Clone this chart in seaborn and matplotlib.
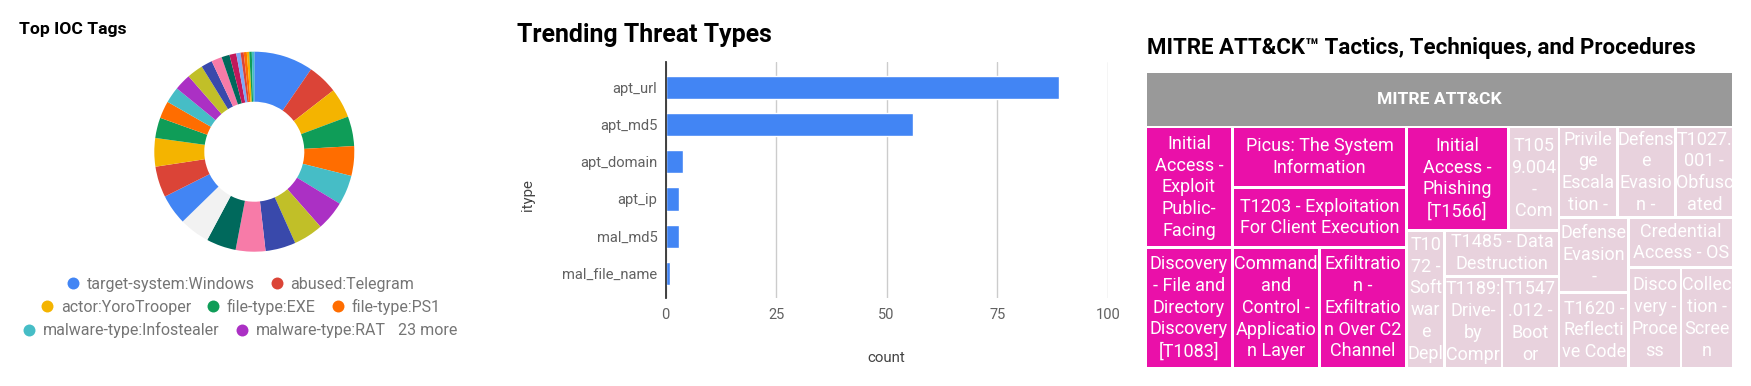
import matplotlib
matplotlib.use('Agg')
import matplotlib.pyplot as plt
from matplotlib.patches import Rectangle
from matplotlib.lines import Line2D
from matplotlib.colors import LinearSegmentedColormap, Normalize
import seaborn as sns

# ---- data: Top IOC Tags (share of tags, %) ----
tag_names = ['target-system:Windows', 'abused:Telegram', 'actor:YoroTrooper',
             'file-type:EXE', 'file-type:PS1', 'malware-type:Infostealer',
             'malware-type:RAT']
tag_values = [9.6, 4.9, 4.8, 4.8, 4.8, 4.8, 4.8, 4.8, 4.9, 4.8, 4.8, 4.9, 4.9, 5.0, 4.6,
              3.3, 2.8, 2.6, 2.7, 2.6, 1.8, 1.7, 1.3, 1.1, 0.7, 0.5, 0.5, 0.4, 0.4, 0.4]
tag_colors = ['#4285f4', '#db4437', '#f4b400', '#0f9d58', '#ff6d00', '#46bdc6',
              '#ab30c4', '#c1bf28', '#3949ab', '#f77ba8', '#00695c', '#f2f2f2',
              '#4285f4', '#db4437', '#f4b400', '#0f9d58', '#ff6d00', '#46bdc6',
              '#ab30c4', '#c1bf28', '#3949ab', '#f77ba8', '#00695c', '#c2185b',
              '#7baaf7', '#db4437', '#ff6d00', '#f4b400', '#0f9d58', '#46bdc6']
legend_rows = [[0, 1], [2, 3, 4], [5, 6]]

# ---- data: Trending Threat Types ----
threat_types = ['apt_url', 'apt_md5', 'apt_domain', 'apt_ip', 'mal_md5', 'mal_file_name']
threat_counts = [89, 56, 4, 3, 3, 1]

# ---- data: MITRE ATT&CK treemap (labels as displayed) ----
ttp_labels = [
    'Initial\nAccess -\nExploit\nPublic-\nFacing',
    'Discovery\n- File and\nDirectory\nDiscovery\n[T1083]',
    'Picus: The System\nInformation',
    'T1203 - Exploitation\nFor Client Execution',
    'Command\nand\nControl -\nApplicatio\nn Layer',
    'Exfiltratio\nn -\nExfiltratio\nn Over C2\nChannel',
    'Initial\nAccess -\nPhishing\n[T1566]',
    'T105\n9.004\n-\nCom',
    'T10\n72 -\nSoft\nwar\ne\nDepl',
    'T1485 - Data\nDestruction',
    'T1189:\nDrive-\nby\nCompr',
    'T1547\n.012 -\nBoot\nor',
    'Privile\nge\nEscala\ntion -',
    'Defens\ne\nEvasio\nn -',
    'T1027.\n001 -\nObfusc\nated',
    'Defense\nEvasion\n-',
    'T1620 -\nReflecti\nve Code',
    'Credential\nAccess - OS',
    'Disco\nvery -\nProce\nss',
    'Collec\ntion -\nScree\nn',
]
ttp_counts = [2, 2, 2, 2, 2, 2, 2, 1, 1, 1, 1, 1, 1, 1, 1, 1, 1, 1, 1, 1]
# grouping of the items (binary hierarchy)
ttp_tree = [[[0, 1], [2, [3, [4, 5]]]],
            [[[6, 7], [8, [9, [10, 11]]]],
             [[12, [13, 14]], [[15, 16], [17, [18, 19]]]]]]

sns.set_theme(style='white')
plt.rcParams['font.family'] = ['Roboto', 'DejaVu Sans']

W_PX, H_PX = 1751, 386
fig = plt.figure(figsize=(W_PX / 100, H_PX / 100), dpi=100)


def px_axes(left, top, right, bottom):
    return fig.add_axes([left / W_PX, 1 - bottom / H_PX,
                         (right - left) / W_PX, (bottom - top) / H_PX])


def fx(x):
    return x / W_PX


def fy(y):
    return 1 - y / H_PX


# ================= donut =================
fig.text(fx(19), fy(34.3), 'Top IOC Tags', fontsize=12.6, fontweight='bold',
         color='#000000', va='baseline')

ax_pie = px_axes(154.3, 51.7, 354.3, 251.7)
ax_pie.pie(tag_values, colors=tag_colors, startangle=90, counterclock=False,
           radius=1, wedgeprops=dict(width=0.5, linewidth=0))
ax_pie.set_xlim(-1, 1)
ax_pie.set_ylim(-1, 1)

row_left = [66.7, 40.7, 23]
row_y = [284.3, 307, 330.3]
for r, idx in enumerate(legend_rows):
    handles = [Line2D([0], [0], marker='o', linestyle='none', markersize=8.6,
                      markerfacecolor=tag_colors[i], markeredgewidth=0) for i in idx]
    labels = [tag_names[i] for i in idx]
    leg = fig.legend(handles, labels, loc='center left',
                     bbox_to_anchor=(fx(row_left[r]), fy(row_y[r])),
                     ncol=len(idx), frameon=False, fontsize=11.5,
                     handlelength=0.75, handletextpad=0.5, columnspacing=1.0,
                     borderpad=0, borderaxespad=0)
    for t in leg.get_texts():
        t.set_color('#757575')
n_more = len(tag_values) - len(tag_names)
fig.text(fx(398), fy(330.3), f'{n_more} more', fontsize=11.5, color='#757575',
         va='center')

# ================= bar chart =================
fig.text(fx(517), fy(41.7), 'Trending Threat Types', fontsize=17.9,
         fontweight='bold', color='#000000', va='baseline')

ax_bar = px_axes(665.5, 62.3, 1107.7, 297.7)
sns.barplot(x=threat_counts, y=threat_types, orient='h', color='#4285f4',
            saturation=1, width=0.625, ax=ax_bar)
ax_bar.set_xlim(0, 100)
ax_bar.set_ylim(5.65, -0.67)
ax_bar.set_xticks([0, 25, 50, 75, 100])
ax_bar.xaxis.grid(True, color='#cccccc', linewidth=1)
ax_bar.yaxis.grid(False)
ax_bar.set_axisbelow(True)
sns.despine(ax=ax_bar, left=False, bottom=True)
ax_bar.spines['left'].set_color('#333333')
ax_bar.spines['left'].set_linewidth(1.3)
ax_bar.spines['left'].set_zorder(5)
ax_bar.tick_params(axis='x', length=0, pad=7.5, labelsize=10.5, labelcolor='#616161')
ax_bar.tick_params(axis='y', length=0, pad=5.8, labelsize=10.6, labelcolor='#616161')
ax_bar.set_xlabel('count', fontsize=10.8, color='#444444')
ax_bar.set_ylabel('itype', fontsize=10.8, color='#444444')
ax_bar.xaxis.set_label_coords(0.5, (297.7 - 358.3) / 235.4)
ax_bar.xaxis.label.set_va('center')
ax_bar.yaxis.set_label_coords((528 - 665.5) / 442.2, (297.7 - 195) / 235.4)
ax_bar.yaxis.label.set_va('center')

# ================= treemap =================
fig.text(fx(1147), fy(54), 'MITRE ATT&CK\u2122 Tactics, Techniques, and Procedures',
         fontsize=16, fontweight='bold', color='#000000', va='baseline')

TL, TT, TR, TB = 1146.7, 73.3, 1732, 366.7
ax_tm = px_axes(TL, TT, TR, TB)
W, H = TR - TL, TB - TT
ax_tm.set_xlim(0, W)
ax_tm.set_ylim(H, 0)
ax_tm.axis('off')

header_h = 52.4
gap = 2.7
ax_tm.add_patch(Rectangle((0, 0), W, header_h, facecolor='#999999', edgecolor='none'))
ax_tm.text(W / 2, header_h / 2, 'MITRE ATT&CK', color='white', fontsize=12.6,
           fontweight='bold', ha='center', va='center')


def node_total(node):
    if isinstance(node, int):
        return ttp_counts[node]
    return sum(node_total(n) for n in node)


def layout(node, x, y, w, h, out):
    if isinstance(node, int):
        out.append((node, x, y, w, h))
        return
    a, b = node
    va, vb = node_total(a), node_total(b)
    if w > h:
        wa = w * va / (va + vb)
        layout(a, x, y, wa, h, out)
        layout(b, x + wa, y, w - wa, h, out)
    else:
        ha = h * va / (va + vb)
        layout(a, x, y, w, ha, out)
        layout(b, x, y + ha, w, h - ha, out)


cells = []
y0 = header_h + gap / 2
layout(ttp_tree, -gap / 2, y0, W + gap, H + gap / 2 - y0, cells)

cmap = LinearSegmentedColormap.from_list('ttp', ['#e8d2dd', '#ea10a9'])
norm = Normalize(min(ttp_counts), max(ttp_counts))
for i, x, y, w, h in cells:
    rect = Rectangle((x + gap / 2, y + gap / 2), w - gap, h - gap,
                     facecolor=cmap(norm(ttp_counts[i])), edgecolor='none')
    ax_tm.add_patch(rect)
    t = ax_tm.text(x + w / 2, y + h / 2, ttp_labels[i], color='white',
                   fontsize=13, ha='center', va='center',
                   multialignment='center', linespacing=1.27)
    t.set_clip_path(rect)

fig.savefig('out.png', dpi=100)
